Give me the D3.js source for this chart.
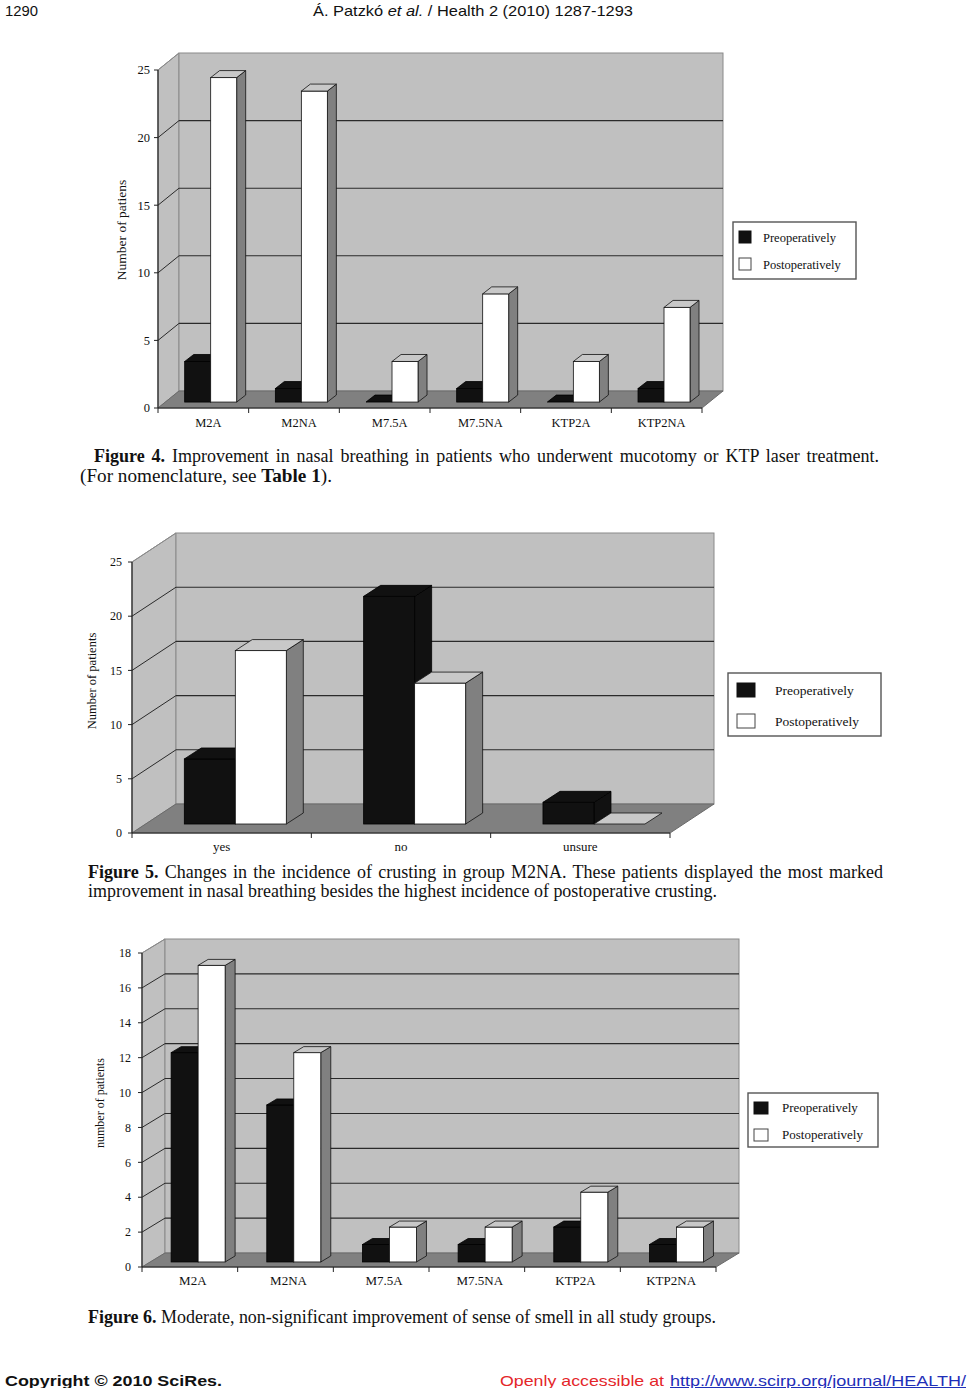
<!DOCTYPE html>
<html>
<head>
<meta charset="utf-8">
<script src="https://cdn.jsdelivr.net/npm/d3@7"></script>
<style>
  html, body { margin: 0; padding: 0; background: #fff; }
  svg { display: block; }
</style>
</head>
<body>
<div id="container"></div>
<script>
// data
const fig4Groups = ["M2A", "M2NA", "M7.5A", "M7.5NA", "KTP2A", "KTP2NA"];
const fig4Pre = [3, 1, 0, 1, 0, 1];
const fig4Post = [24, 23, 3, 8, 3, 7];
const fig4Ticks = [0, 5, 10, 15, 20, 25];

const fig5Groups = ["yes", "no", "unsure"];
const fig5Pre = [6, 21, 2];
const fig5Post = [16, 13, 0];
const fig5Ticks = [0, 5, 10, 15, 20, 25];

const fig6Groups = ["M2A", "M2NA", "M7.5A", "M7.5NA", "KTP2A", "KTP2NA"];
const fig6Pre = [12, 9, 1, 1, 2, 1];
const fig6Post = [17, 12, 2, 2, 4, 2];
const fig6Ticks = [0, 2, 4, 6, 8, 10, 12, 14, 16, 18];

const seriesNames = ["Preoperatively", "Postoperatively"];

const W = 967, H = 1388;
const serif = "'Liberation Serif', 'Times New Roman', serif";
const sans = "'Liberation Sans', Arial, sans-serif";

const svg = d3.select("#container")
  .append("svg")
  .attr("width", W)
  .attr("height", H);

function poly(g, pts, fill, stroke, sw) {
  return g.append("polygon")
    .attr("points", pts.map(p => p.join(",")).join(" "))
    .attr("fill", fill)
    .attr("stroke", stroke || "none")
    .attr("stroke-width", sw || 1)
    .attr("stroke-linejoin", "round");
}

// one fake-3D column chart, Excel 2003 style
function draw3d(o) {
  const g = svg.append("g");
  const maxV = o.ticks[o.ticks.length - 1];
  const y = d3.scaleLinear().domain([0, maxV]).range([o.yBase, o.yTop]);
  const x = d3.scaleBand().domain(o.groups).range([o.x0, o.x1]);
  const dx = o.dx, dy = o.dy;
  const y0 = y(0), yM = y(maxV);

  // walls + floor
  poly(g, [[o.x0, y0], [o.x0, yM], [o.x0 + dx, yM + dy], [o.x0 + dx, y0 + dy]], "#c0c0c0", "#8a8a8a", 1);
  g.append("rect")
    .attr("x", o.x0 + dx).attr("y", yM + dy)
    .attr("width", o.x1 - o.x0).attr("height", y0 - yM)
    .attr("fill", "#c0c0c0").attr("stroke", "#8a8a8a");
  poly(g, [[o.x0, y0], [o.x1, y0], [o.x1 + dx, y0 + dy], [o.x0 + dx, y0 + dy]], "#808080", "#6a6a6a", 1);

  // gridlines on back and side wall
  const inner = o.ticks.filter(v => v > 0 && v < maxV);
  g.selectAll(".grid").data(inner).enter().append("line")
    .attr("x1", o.x0 + dx).attr("x2", o.x1 + dx)
    .attr("y1", v => y(v) + dy).attr("y2", v => y(v) + dy)
    .attr("stroke", "#2a2a2a").attr("stroke-width", 1.1);
  g.selectAll(".diag").data(o.ticks.filter(v => v > 0)).enter().append("line")
    .attr("x1", o.x0).attr("x2", o.x0 + dx)
    .attr("y1", v => y(v)).attr("y2", v => y(v) + dy)
    .attr("stroke", v => v === maxV ? "#8a8a8a" : "#2a2a2a").attr("stroke-width", 1);

  // bars
  const off = (x.bandwidth() - 2 * o.barW) / 2;
  o.groups.forEach((cat, i) => {
    [o.pre[i], o.post[i]].forEach((v, s) => {
      const fx = x(cat) + o.t * dx + off + s * o.barW;
      const fb = y0 + o.t * dy;
      const ft = fb - (y0 - y(v));
      const black = s === 0;
      const st = black ? "#000" : "#111";
      if (v > 0) {
        poly(g, [[fx + o.barW, ft], [fx + o.barW + o.bdx, ft + o.bdy], [fx + o.barW + o.bdx, fb + o.bdy], [fx + o.barW, fb]],
          black ? "#111" : "#808080", st, 0.8);
        g.append("rect").attr("x", fx).attr("y", ft).attr("width", o.barW).attr("height", fb - ft)
          .attr("fill", black ? "#111" : "#fff").attr("stroke", st).attr("stroke-width", 0.8);
      }
      poly(g, [[fx, ft], [fx + o.bdx, ft + o.bdy], [fx + o.barW + o.bdx, ft + o.bdy], [fx + o.barW, ft]],
        black ? "#111" : "#c8c8c8", st, 0.8);
    });
  });

  // front axes
  g.append("line").attr("x1", o.x0).attr("x2", o.x0).attr("y1", y0).attr("y2", yM)
    .attr("stroke", "#222").attr("stroke-width", 1.2);
  g.append("line").attr("x1", o.x0).attr("x2", o.x1).attr("y1", y0).attr("y2", y0)
    .attr("stroke", "#222").attr("stroke-width", 1.2);
  g.selectAll(".yt").data(o.ticks).enter().append("line")
    .attr("x1", o.x0 - 4).attr("x2", o.x0).attr("y1", v => y(v)).attr("y2", v => y(v))
    .attr("stroke", "#222");
  g.selectAll(".yl").data(o.ticks).enter().append("text")
    .attr("x", o.x0 - o.tickGap).attr("y", v => y(v) + o.tickFont * 0.35)
    .attr("text-anchor", "end")
    .style("font-family", serif).style("font-size", o.tickFont + "px").style("fill", "#111")
    .text(v => v);
  const edges = o.groups.map(c => x(c)).concat([o.x1]);
  g.selectAll(".xt").data(edges).enter().append("line")
    .attr("x1", d => d).attr("x2", d => d).attr("y1", y0).attr("y2", y0 + 5)
    .attr("stroke", "#222");
  g.selectAll(".xl").data(o.groups).enter().append("text")
    .attr("x", c => x(c) + x.bandwidth() / 2 + o.labelShift)
    .attr("y", o.catY)
    .attr("text-anchor", "middle")
    .style("font-family", serif).style("font-size", o.catFont + "px").style("fill", "#111")
    .text(c => c);

  // axis title
  g.append("text")
    .attr("transform", `translate(${o.titleX},${o.titleY}) rotate(-90)`)
    .attr("text-anchor", "middle")
    .style("font-family", serif).style("font-size", o.titleFont + "px").style("fill", "#111")
    .text(o.title);

  // legend
  const L = o.legend;
  g.append("rect").attr("x", L.x).attr("y", L.y).attr("width", L.w).attr("height", L.h)
    .attr("fill", "#fff").attr("stroke", "#555").attr("stroke-width", 1.4);
  seriesNames.forEach((name, s) => {
    g.append("rect")
      .attr("x", L.sx).attr("y", L.sy[s]).attr("width", L.sw).attr("height", L.sh)
      .attr("fill", s === 0 ? "#111" : "#fff").attr("stroke", s === 0 ? "#111" : "#444");
    g.append("text")
      .attr("x", L.tx).attr("y", L.ty[s])
      .style("font-family", serif).style("font-size", L.font + "px").style("fill", "#111")
      .text(name);
  });
}

draw3d({
  groups: fig4Groups, pre: fig4Pre, post: fig4Post, ticks: fig4Ticks,
  x0: 158, x1: 702, yBase: 408, yTop: 70, dx: 21, dy: -17,
  t: 0.35, barW: 26, bdx: 9, bdy: -7,
  tickGap: 8, tickFont: 12.5, catY: 427, catFont: 12.5, labelShift: 5,
  title: "Number of patiens", titleX: 126, titleY: 230, titleFont: 13.5,
  legend: { x: 733, y: 222, w: 123, h: 57, sx: 739, sy: [231, 258], sw: 12, sh: 12,
    tx: 763, ty: [242, 269], font: 12.5 }
});

draw3d({
  groups: fig5Groups, pre: fig5Pre, post: fig5Post, ticks: fig5Ticks,
  x0: 132, x1: 670, yBase: 833, yTop: 562, dx: 44, dy: -29,
  t: 0.31, barW: 51, bdx: 17, bdy: -11,
  tickGap: 10, tickFont: 12, catY: 851, catFont: 13, labelShift: 0,
  title: "Number of patients", titleX: 96, titleY: 681, titleFont: 12.5,
  legend: { x: 728, y: 673, w: 153, h: 63, sx: 737, sy: [683, 714], sw: 18, sh: 14,
    tx: 775, ty: [695, 726], font: 13.5 }
});

draw3d({
  groups: fig6Groups, pre: fig6Pre, post: fig6Post, ticks: fig6Ticks,
  x0: 142, x1: 716, yBase: 1267, yTop: 953, dx: 23, dy: -14,
  t: 0.36, barW: 27, bdx: 10, bdy: -6,
  tickGap: 11, tickFont: 12, catY: 1285, catFont: 13, labelShift: 3,
  title: "number of patients", titleX: 104, titleY: 1103, titleFont: 12,
  legend: { x: 748, y: 1093, w: 130, h: 54, sx: 754, sy: [1102, 1129], sw: 14, sh: 12,
    tx: 782, ty: [1112, 1139], font: 13 }
});

// page text: header, captions, footer
function line(xp, yp, parts, family, size, opts) {
  opts = opts || {};
  const t = svg.append("text").attr("x", xp).attr("y", yp)
    .attr("xml:space", "preserve")
    .style("font-family", family).style("font-size", size + "px").style("fill", "#111");
  if (opts.weight) t.style("font-weight", opts.weight);
  parts.forEach(p => {
    const s = t.append("tspan").text(p.s);
    if (p.b) s.style("font-weight", "bold");
    if (p.i) s.style("font-style", "italic");
    if (p.c) s.style("fill", p.c);
    if (p.u) s.style("text-decoration", "underline");
  });
  if (opts.len) t.attr("textLength", opts.len).attr("lengthAdjust", "spacingAndGlyphs");
  if (opts.justify) {
    // spread the words out to the right margin, like the printed page
    const nat = t.node().getComputedTextLength();
    const spaces = parts.map(p => p.s).join("").split(" ").length - 1;
    t.style("word-spacing", ((opts.justify - nat) / spaces) + "px");
  }
  return t;
}

const capSize = 18;

line(5, 16, [{ s: "1290" }], sans, 15, { len: 33 });
line(313, 16, [{ s: "Á. Patzkó " }, { s: "et al.", i: true }, { s: " / Health 2 (2010) 1287-1293" }], sans, 15, { len: 320 });

line(94, 462, [{ s: "Figure 4.", b: true }, { s: " Improvement in nasal breathing in patients who underwent mucotomy or KTP laser treatment." }], serif, capSize, { justify: 785 });
line(80, 482, [{ s: "(For nomenclature, see " }, { s: "Table 1", b: true }, { s: ")." }], serif, capSize, { len: 252 });

line(88, 878, [{ s: "Figure 5.", b: true }, { s: " Changes in the incidence of crusting in group M2NA. These patients displayed the most marked" }], serif, capSize, { justify: 795 });
line(88, 897, [{ s: "improvement in nasal breathing besides the highest incidence of postoperative crusting." }], serif, capSize, { len: 629 });

line(88, 1323, [{ s: "Figure 6.", b: true }, { s: " Moderate, non-significant improvement of sense of smell in all study groups." }], serif, capSize, { len: 628 });

line(5, 1386, [{ s: "Copyright © 2010 SciRes." }], sans, 15, { weight: "bold", len: 217 });
line(500, 1386, [{ s: "Openly accessible at", c: "#e4262a" }], sans, 15, { len: 164 });
line(670, 1386, [{ s: "http://www.scirp.org/journal/HEALTH/", c: "#1f2fb8", u: true }], sans, 15, { len: 296 });
</script>
</body>
</html>
